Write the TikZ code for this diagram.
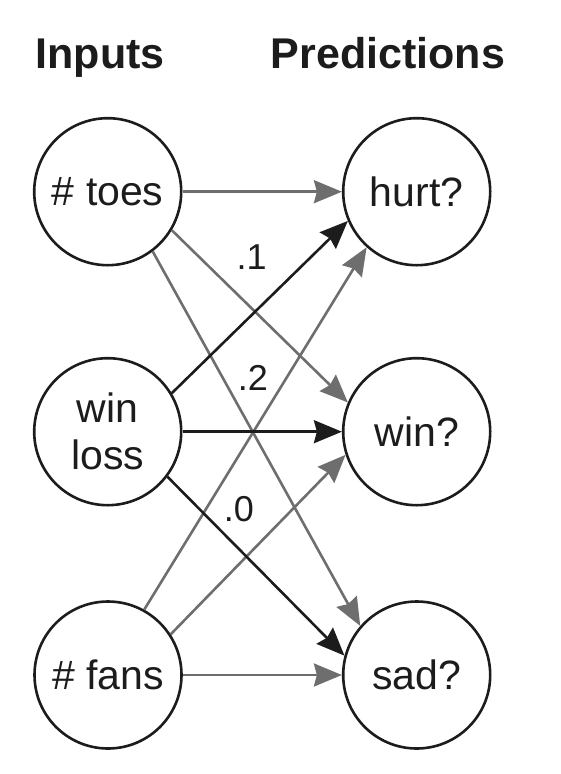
\documentclass[tikz,border=0pt]{standalone}
\usepackage{fontspec}
\setmainfont{Liberation Sans}
\usetikzlibrary{arrows.meta}
\definecolor{ink}{HTML}{1C1C1C}
\definecolor{wgray}{HTML}{6E6E6E}
\tikzset{
  neuron/.style={circle,draw=ink,line width=2.6pt,minimum size=147pt,inner sep=0pt,
    font=\fontsize{41}{47}\selectfont,text=ink,align=center},
  title/.style={font=\fontsize{43}{46}\selectfont\bfseries,text=ink,anchor=base},
  wlabel/.style={font=\fontsize{36}{40}\selectfont,text=ink,anchor=base},
  grayedge/.style={draw=wgray,line width=2.6pt,-{Stealth[length=28pt,width=23pt,inset=3pt]}},
  blackedge/.style={draw=ink,line width=2.6pt,-{Stealth[length=28pt,width=23pt,inset=3pt]}}
}
\begin{document}
\begin{tikzpicture}[x=1pt,y=-1pt]
\useasboundingbox (0,0) rectangle (560,774);
\node[title] (tin) at (100,68) {Inputs};
\node[title] (tpred) at (388,68) {Predictions};
\node[neuron] (toes) at (107.7,191.7) {\# toes};
\node[neuron] (wl) at (107.7,431.7) {win\\loss};
\node[neuron] (fans) at (108,675) {\# fans};
\node[neuron] (hurt) at (416.7,191.7) {hurt?};
\node[neuron] (win) at (416.7,431.7) {win?};
\node[neuron] (sad) at (416.7,675) {sad?};
% gray edges
\draw[grayedge] (toes.east) -- (hurt.west);
\draw[grayedge] (toes.-31) -- (win.157);
\draw[grayedge] (toes.-53) -- (sad.139);
\draw[grayedge] (fans.61) -- (hurt.-132);
\draw[grayedge] (fans.33) -- (win.-162);
\draw[grayedge] (fans.east) -- (sad.west);
% black edges
\draw[blackedge] (wl.31) -- (hurt.-157);
\draw[blackedge] (wl.east) -- (win.west);
\draw[blackedge] (wl.-37) -- (sad.165);
% weight labels
\node[wlabel] (w1) at (251.7,269.3) {.1};
\node[wlabel] (w2) at (253,390) {.2};
\node[wlabel] (w0) at (239,521.7) {.0};
\end{tikzpicture}
\end{document}
